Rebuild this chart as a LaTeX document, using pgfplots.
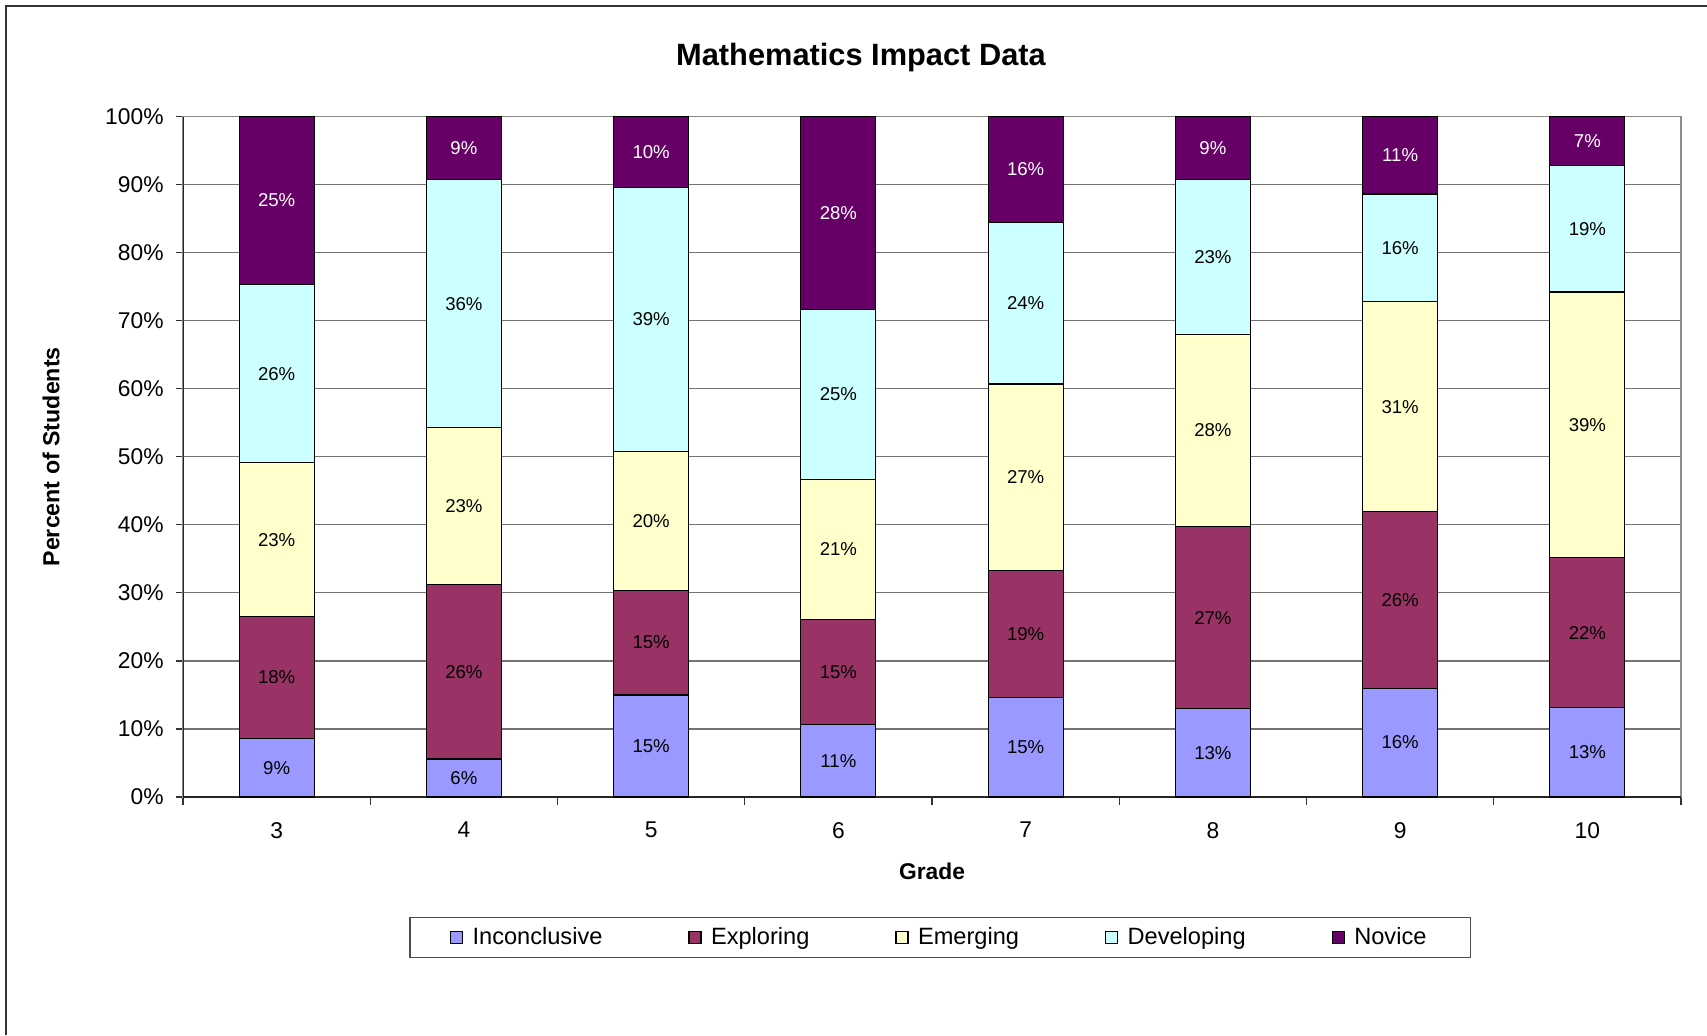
\documentclass[border=0pt]{standalone}
\usepackage{pgfplots}
\pgfplotsset{compat=1.18}
\usepackage{pgfplotstable}
\usepackage{fontspec}
\setmainfont{Liberation Sans}

\definecolor{inconc}{HTML}{9999FF}
\definecolor{explor}{HTML}{993366}
\definecolor{emerg}{HTML}{FFFFCC}
\definecolor{devel}{HTML}{CCFFFF}
\definecolor{novice}{HTML}{660066}

% grade index, then the five shares from bottom to top
\pgfplotstableread{
x inc exp emg dev nov
0 8.6 17.9 22.6 26.2 24.7
1 5.6 25.6 23.1 36.4 9.3
2 15.0 15.4 20.4 38.8 10.4
3 10.7 15.4 20.6 24.9 28.4
4 14.6 18.7 27.4 23.7 15.6
5 13.0 26.7 28.3 22.7 9.3
6 16.0 25.9 30.9 15.8 11.4
7 13.1 22.1 39.0 18.6 7.2
}\impact

\pgfkeys{/pgf/number format/assume math mode=true}
\pgfplotsset{
  seg/.style 2 args={fill=#1, draw=black, line width=0.6pt,
    point meta=explicit,
    nodes near coords={\pgfmathprintnumber[fixed,precision=0]{\pgfplotspointmeta}\%},
    every node near coord/.append style={anchor=center, text=#2}},
}

\begin{document}
\begin{tikzpicture}
\useasboundingbox (0,0) rectangle (853.5pt,-517.5pt);
\draw[black!80, line width=1pt] (3pt,-517.5pt) -- (3pt,-3pt) -- (853.5pt,-3pt);

\begin{axis}[
  at={(91.5pt,-398.5pt)}, anchor=south west,
  scale only axis, width=749pt, height=340.25pt,
  ybar stacked, bar width=37.5pt,
  xmin=-0.5, xmax=7.5, ymin=0, ymax=100,
  xtick={0,...,7}, xticklabels={3,4,5,6,7,8,9,10},
  minor xtick={-0.5,0.5,...,7.5},
  major x tick style={draw=none},
  ytick={0,10,...,100},
  yticklabel={\pgfmathprintnumber{\tick}\%},
  tick pos=left, tick align=outside,
  major tick length=3.5pt, minor tick length=4pt,
  tick style={black!80, line width=0.6pt},
  ymajorgrids, grid style={black!55, line width=0.6pt},
  axis line style={black!45, line width=0.6pt},
  tick label style={font=\fontsize{11.4}{13}\selectfont},
  xticklabel style={yshift=-5.6pt},
  yticklabel style={xshift=-2.7pt},
  nodes near coords style={font=\fontsize{9.3}{11}\selectfont},
  legend style={at={(0.5055,-0.2065)}, anchor=center, draw=black!70,
    line width=0.6pt, legend columns=5,
    font=\fontsize{11.8}{14}\selectfont, inner xsep=20pt, inner ysep=3pt,
    /tikz/every even column/.append style={column sep=41pt}},
  legend image code/.code={\draw[#1,draw=black] (0pt,-3pt) rectangle (6pt,3pt);
    \path[draw=none,fill=none] (0pt,0pt) -- (9pt,0pt);},
]
\addplot[seg={inconc}{black}] table[x=x, y=inc, meta=inc] {\impact};
\addplot[seg={explor}{black}] table[x=x, y=exp, meta=exp] {\impact};
\addplot[seg={emerg}{black}] table[x=x, y=emg, meta=emg] {\impact};
\addplot[seg={devel}{black}] table[x=x, y=dev, meta=dev] {\impact};
\addplot[seg={novice}{white}] table[x=x, y=nov, meta=nov] {\impact};
\legend{Inconclusive, Exploring, Emerging, Developing, Novice}
\draw[black!85, line width=0.8pt] (rel axis cs:0,1) -- (rel axis cs:0,0) -- (rel axis cs:1,0);
\end{axis}

\node[font=\bfseries\fontsize{15.4}{18}\selectfont] at (430.5pt,-28.6pt) {Mathematics Impact Data};
\node[rotate=90, font=\bfseries\fontsize{11.6}{14}\selectfont] at (25.5pt,-228.4pt) {Percent of Students};
\node[font=\bfseries\fontsize{11.4}{14}\selectfont] at (466pt,-435.5pt) {Grade};
\end{tikzpicture}
\end{document}
